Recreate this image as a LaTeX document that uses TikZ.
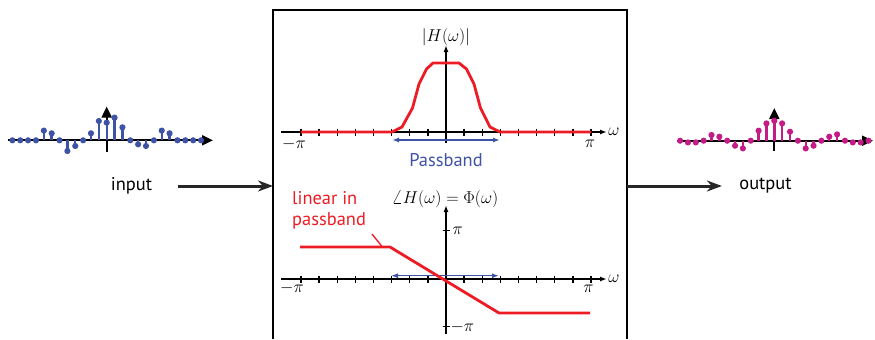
\documentclass[tikz,border=0pt]{standalone}
\usepackage{fontspec}
\setsansfont{PT Sans}
\usepackage{xcolor}
\usepackage{tikz}
\usetikzlibrary{arrows.meta}

\definecolor{sigblue}{RGB}{62,82,166}
\definecolor{sigmag}{RGB}{196,28,134}
\definecolor{respred}{RGB}{237,28,36}

\begin{document}
\begin{tikzpicture}[
    x=1bp,y=-1bp,
    every node/.style={font=\fontsize{19}{22}\selectfont},
    txt/.style={font=\fontsize{18.5}{21}\selectfont\sffamily},
    axis/.style={black,line width=1.4bp},
    sigaxis/.style={black,line width=2bp,-{Triangle[length=11bp,width=10bp]}},
    plotaxis/.style={axis,-{Latex[length=7bp,width=5bp]}},
    band/.style={sigblue,line width=1.5bp,{Latex[length=7bp,width=5bp]}-{Latex[length=7bp,width=5bp]}},
    resp/.style={respred,line width=2.8bp,line join=round},
    flow/.style={line width=3bp,black!85,-{Stealth[length=15bp,width=11bp]}}
  ]
  \useasboundingbox (0,0) rectangle (875,339);

  % system box (open at the bottom)
  \draw[line width=1.5bp] (273,339) -- (273,10) -- (627,10) -- (627,339);
  \coordinate (boxL) at (273,186);
  \coordinate (boxR) at (627,186);

  % input signal
  \draw[sigaxis] (8,140.3) -- (213,140.3);
  \draw[sigaxis] (106.7,152) -- (106.7,106.5);
  \foreach \n/\v in {-12/0,-11/0,-10/0,-9/0,-8/9.7,-7/7,-6/0,-5/-10.7,-4/-5.7,-3/0,-2/7,-1/19.3,
                     0/17.7,1/22.7,2/13,3/0,4/-4,5/-5.7,6/0,7/9.7,8/7,9/0,10/0,11/0,12/0} {
    \draw[sigblue,line width=2.4bp] ({106.7+7.86*\n},140.3) -- ({106.7+7.86*\n},{140.3-(\v)});
    \fill[sigblue] ({106.7+7.86*\n},{140.3-(\v)}) circle (3.1bp);
  }

  % output signal
  \draw[sigaxis] (677,140.7) -- (873,140.7);
  \draw[sigaxis] (774.3,151) -- (774.3,108);
  \foreach \n/\v in {-12/0,-11/-1.7,-10/-1.7,-9/0,-8/5.7,-7/4,-6/0,-5/-5,-4/-7.7,-3/0,-2/10,-1/17.3,
                     0/20,1/17.3,2/9,3/0,4/-7.7,5/-5,6/0,7/4,8/6.3,9/0,10/-1.7,11/-1.7,12/0} {
    \draw[sigmag,line width=2.4bp] ({774.3+7.85*\n},140.7) -- ({774.3+7.85*\n},{140.7-(\v)});
    \fill[sigmag] ({774.3+7.85*\n},{140.7-(\v)}) circle (3.1bp);
  }

  % input / output arrows
  \node[txt] (input)  at (131.5,186) {input};
  \node[txt] (output) at (765.5,186) {output};
  \draw[flow] ([xshift=22bp]input.east) -- (boxL);
  \draw[flow] (boxR) -- ([xshift=-14bp]output.west);

  % magnitude plot
  \draw[plotaxis] (281,132) -- (607,132);
  \draw[plotaxis] (446,143) -- (446,45);
  \foreach \k in {-8,...,-1,1,2,...,8}
    \draw[axis] ({446+18.12*\k},128.5) -- ({446+18.12*\k},135.5);
  \draw[resp] (301,132) -- (392,132) -- (402,127) -- (412.5,108) -- (419,84) -- (426.5,69) -- (433,63)
    -- (459,63) -- (466.5,69) -- (474,84) -- (480.5,108) -- (490,127) -- (500,132) -- (591,132);
  \draw[band] (392,140) -- (500,140);
  \node (magT)  at (446,37)    {$|H(\omega)|$};
  \node (magW)  at (614,132)   {$\omega$};
  \node (magL)  at (294,144)   {$-\pi$};
  \node (magR)  at (590,143.5) {$\pi$};
  \node[txt,text=sigblue] (pband) at (446,160) {Passband};

  % phase plot
  \draw[plotaxis] (281,279) -- (607,279);
  \draw[plotaxis] (446,334) -- (446,205);
  \foreach \k in {-8,...,-1,1,2,...,8}
    \draw[axis] ({446+18.12*\k},275.5) -- ({446+18.12*\k},282.5);
  \draw[axis] (442.5,230.7) -- (449.5,230.7);
  \draw[axis] (442.5,326.7) -- (449.5,326.7);
  \draw[band] (391,275.7) -- (499,275.7);
  \draw[resp] (300,247) -- (390,247) -- (499,313) -- (590,313);
  \node (phT)  at (445,199)   {$\angle H(\omega)=\Phi(\omega)$};
  \node (phW)  at (614,278.5) {$\omega$};
  \node (phL)  at (292,288.5) {$-\pi$};
  \node (phR)  at (588.5,288.5) {$\pi$};
  \node[anchor=west] (phP) at (449,230.7) {$\pi$};
  \node[anchor=west] (phM) at (447,326.7) {$-\pi$};
  \node[txt,text=respred,align=left,anchor=north west,inner sep=0pt] (lin) at (292,191)
    {linear in\\passband};
  \draw[respred,line width=1.4bp] (372,234) -- (382,246.5);
\end{tikzpicture}
\end{document}
